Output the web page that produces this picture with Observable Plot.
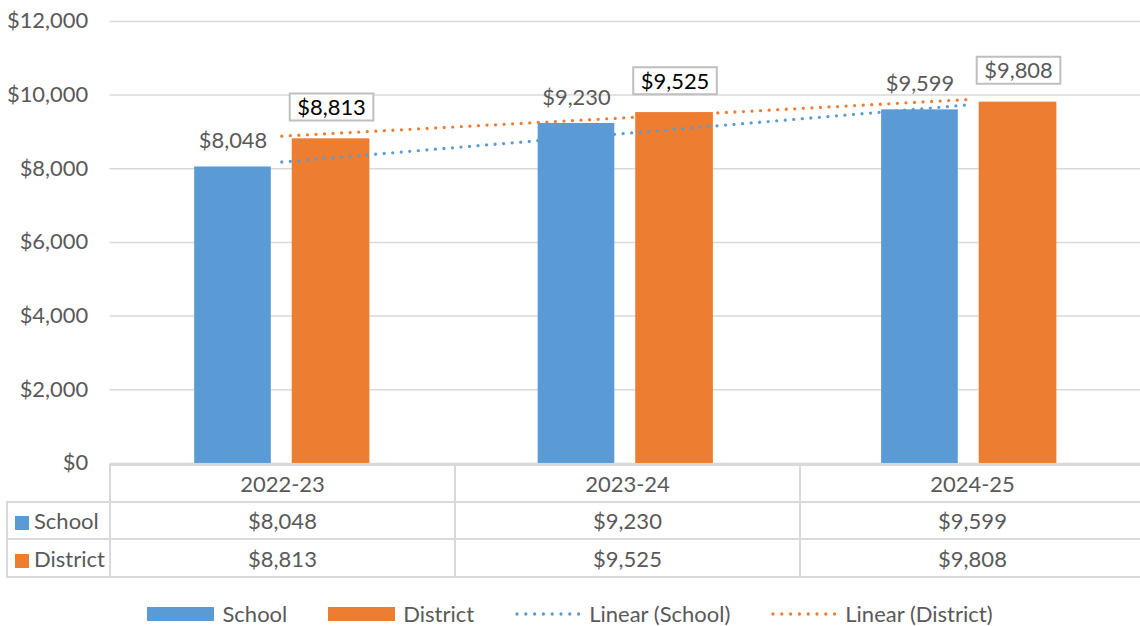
<!DOCTYPE html>
<html>
<head>
<meta charset="utf-8">
<script src="https://cdn.jsdelivr.net/npm/d3@7"></script>
<script src="https://cdn.jsdelivr.net/npm/@observablehq/plot@0.6"></script>
<style>
  html, body { margin: 0; padding: 0; background: #fff; }
  #wrap { position: relative; width: 1140px; height: 626px; overflow: hidden; background: #fff;
          font-family: Lato, "Open Sans", sans-serif; color: #595959; }
  #chart { position: absolute; left: 0; top: 0; }
  #dt { position: absolute; left: 6px; top: 464px; width: 1140px; border-collapse: collapse; table-layout: fixed;
        font-size: 22px; color: #595959; }
  #dt td { border: 2px solid #D9D9D9; padding: 0; text-align: center; white-space: nowrap; }
  #dt td.blank { border: none; }
  #dt td.lab { text-align: left; padding-left: 7px; }
  #dt .sw { display: inline-block; width: 14px; height: 14px; margin-right: 5px; vertical-align: -1px; }
  #legend { position: absolute; left: 0; width: 1140px; top: 600px; height: 27px; display: flex;
            justify-content: center; align-items: center; gap: 41px; font-size: 22px; color: #595959; }
  #legend .item { display: flex; align-items: center; gap: 8px; }
  #legend .bar { width: 67px; height: 14px; }
</style>
</head>
<body>
<div id="wrap">
  <div id="chart"></div>
  <table id="dt"></table>
  <div id="legend"></div>
</div>
<script>
// ---- data ----
const categories = ["2022-23", "2023-24", "2024-25"];
const seriesNames = ["School", "District"];
const schoolValues = [8048, 9230, 9599];
const districtValues = [8813, 9525, 9808];
const yTicks = [0, 2000, 4000, 6000, 8000, 10000, 12000];
const trendNames = ["Linear (School)", "Linear (District)"];

// ---- styles ----
const COLORS = { School: "#5B9BD5", District: "#ED7D31" };
const TEXT = "#595959";
const GRID = "#D9D9D9";
const districtLabelFill = ["#000000", "#000000", "#595959"];

const fmt = d => "$" + d3.format(",")(d);

// least-squares linear trend over category index (Excel "Linear" trendline)
function linFit(vals) {
  const xs = vals.map((_, i) => i + 1);
  const mx = d3.mean(xs), my = d3.mean(vals);
  const sxy = d3.sum(xs, (x, i) => (x - mx) * (vals[i] - my));
  const sxx = d3.sum(xs, x => (x - mx) ** 2);
  const b = sxy / sxx, a = my - b * mx;
  return xs.map(x => a + b * x);
}

const schoolRows = categories.map((c, i) => ({ category: c, value: schoolValues[i] }));
const districtRows = categories.map((c, i) => ({ category: c, value: districtValues[i], fill: districtLabelFill[i] }));
const schoolFit = linFit(schoolValues).map((v, i) => ({ category: categories[i], fit: v }));
const districtFit = linFit(districtValues).map((v, i) => ({ category: categories[i], fit: v }));

const boxSymbol = {
  draw(ctx) {
    ctx.moveTo(-42, -13.5); ctx.lineTo(42, -13.5); ctx.lineTo(42, 13.5); ctx.lineTo(-42, 13.5); ctx.closePath();
  }
};

const dotted = { strokeWidth: 3.3, strokeDasharray: "0 8.6", strokeLinecap: "round" };

const chart = Plot.plot({
  width: 1145, height: 470,
  marginLeft: 110, marginRight: 0, marginTop: 21, marginBottom: 5,
  style: { fontFamily: "Lato, 'Open Sans', sans-serif", fontSize: "22px", color: TEXT, background: "white", overflow: "visible" },
  x: { domain: categories, padding: 0, axis: null },
  y: { domain: [0, 12000], ticks: yTicks, tickFormat: fmt, tickSize: 0, tickPadding: 22, label: null },
  marks: [
    Plot.ruleY(yTicks, { stroke: GRID, strokeWidth: 1.5 }),
    Plot.barY(schoolRows, { x: "category", y: "value", fill: COLORS.School, insetLeft: 85, insetRight: 183 }),
    Plot.barY(districtRows, { x: "category", y: "value", fill: COLORS.District, insetLeft: 183, insetRight: 84 }),
    Plot.line(schoolFit, { x: "category", y: "fit", stroke: COLORS.School, ...dotted }),
    Plot.line(districtFit, { x: "category", y: "fit", stroke: COLORS.District, ...dotted }),
    Plot.text(schoolRows, { x: "category", y: "value", text: d => fmt(d.value), dx: -49, dy: -26, fill: TEXT, fontSize: 22 }),
    Plot.dot(districtRows, { x: "category", y: "value", symbol: boxSymbol, r: 10, fill: "white", stroke: "#BFBFBF", strokeWidth: 2, dx: 50, dy: -32 }),
    Plot.text(districtRows, { x: "category", y: "value", text: d => fmt(d.value), dx: 50, dy: -31, fill: d => d.fill, fontSize: 22 })
  ]
});
document.getElementById("chart").appendChild(chart);

// ---- data table ----
const table = document.getElementById("dt");
const colgroup = document.createElement("colgroup");
[103, 345, 345, 345].forEach(w => { const c = document.createElement("col"); c.style.width = w + "px"; colgroup.appendChild(c); });
table.appendChild(colgroup);
const head = document.createElement("tr");
head.style.height = "37px";
head.innerHTML = `<td class="blank"></td>` + categories.map(c => `<td>${c}</td>`).join("");
table.appendChild(head);
[[seriesNames[0], schoolValues], [seriesNames[1], districtValues]].forEach(([name, vals], k) => {
  const tr = document.createElement("tr");
  tr.style.height = k === 0 ? "37px" : "38px";
  tr.innerHTML = `<td class="lab"><span class="sw" style="background:${COLORS[name]}"></span>${name}</td>` +
    vals.map(v => `<td>${fmt(v)}</td>`).join("");
  table.appendChild(tr);
});

// ---- legend ----
const legend = document.getElementById("legend");
seriesNames.forEach(name => {
  const it = document.createElement("div"); it.className = "item";
  it.innerHTML = `<span class="bar" style="background:${COLORS[name]}"></span><span>${name}</span>`;
  legend.appendChild(it);
});
trendNames.forEach((name, i) => {
  const col = COLORS[seriesNames[i]];
  const it = document.createElement("div"); it.className = "item";
  it.innerHTML = `<svg width="66" height="10"><line x1="2" y1="5" x2="64" y2="5" stroke="${col}" stroke-width="3.3" stroke-dasharray="0 8.8" stroke-linecap="round"/></svg><span>${name}</span>`;
  legend.appendChild(it);
});
</script>
</body>
</html>
